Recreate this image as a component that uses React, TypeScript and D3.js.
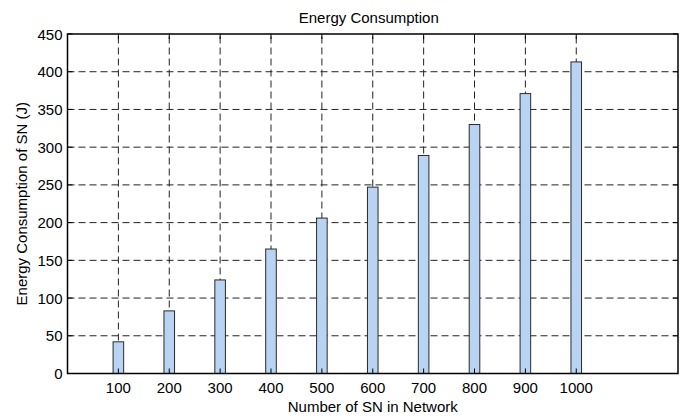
import React from "react";
import * as d3 from "d3";

const nodes = [100, 200, 300, 400, 500, 600, 700, 800, 900, 1000];
const energy = [42, 83, 124, 165, 206, 247, 289, 330, 371, 413];
const yTicks = [0, 50, 100, 150, 200, 250, 300, 350, 400, 450];
const title = "Energy Consumption";
const xLabel = "Number of SN in Network";
const yLabel = "Energy Consumption of SN (J)";

const W = 688;
const H = 419;
const M = { left: 67.5, right: 678, top: 34, bottom: 373.5 };
const FONT = "'Liberation Sans', Arial, Helvetica, sans-serif";

export default function App() {
  const x = d3.scaleLinear().domain([0, 1200]).range([M.left, M.right]);
  const y = d3.scaleLinear().domain([0, 450]).range([M.bottom, M.top]);
  const halfW = 10.4;
  const tick = 5;
  const grid = "#222";
  return (
    <svg
      width={W}
      height={H}
      style={{ position: "absolute", left: 0, top: 0, background: "#fff" }}
      fontFamily={FONT}
    >
      <rect x={0} y={0} width={W} height={H} fill="#fff" />
      {/* grid */}
      {yTicks
        .filter((t) => t > 0 && t < 450)
        .map((t) => (
          <line
            key={"gy" + t}
            x1={M.left}
            x2={M.right}
            y1={y(t)}
            y2={y(t)}
            stroke={grid}
            strokeWidth={1}
            strokeDasharray="7,4"
          />
        ))}
      {nodes.map((n) => (
        <line
          key={"gx" + n}
          x1={x(n)}
          x2={x(n)}
          y1={M.bottom}
          y2={M.top}
          stroke={grid}
          strokeWidth={1}
          strokeDasharray="7,4"
        />
      ))}
      {/* bars */}
      {nodes.map((n, i) => (
        <rect
          key={"b" + n}
          x={x(n - halfW)}
          y={y(energy[i])}
          width={x(n + halfW) - x(n - halfW)}
          height={y(0) - y(energy[i])}
          fill="#b9d4f2"
          stroke="#2a2a2a"
          strokeWidth={1}
        />
      ))}
      {/* ticks */}
      {yTicks.map((t) => (
        <g key={"ty" + t}>
          <line x1={M.left} x2={M.left + tick} y1={y(t)} y2={y(t)} stroke="#000" />
          <line x1={M.right} x2={M.right - tick} y1={y(t)} y2={y(t)} stroke="#000" />
          <text
            x={M.left - 5}
            y={y(t)}
            textAnchor="end"
            dominantBaseline="central"
            fontSize={15}
            fill="#000"
          >
            {t}
          </text>
        </g>
      ))}
      {nodes.map((n) => (
        <g key={"tx" + n}>
          <line x1={x(n)} x2={x(n)} y1={M.bottom} y2={M.bottom - tick} stroke="#000" />
          <line x1={x(n)} x2={x(n)} y1={M.top} y2={M.top + tick} stroke="#000" />
          <text
            x={x(n)}
            y={M.bottom + 14}
            textAnchor="middle"
            dominantBaseline="central"
            fontSize={15}
            fill="#000"
          >
            {n}
          </text>
        </g>
      ))}
      {/* frame */}
      <rect
        x={M.left}
        y={M.top}
        width={M.right - M.left}
        height={M.bottom - M.top}
        fill="none"
        stroke="#000"
        strokeWidth={1.5}
      />
      <text
        x={(M.left + M.right) / 2 - 4}
        y={17.5}
        textAnchor="middle"
        dominantBaseline="central"
        fontSize={15}
        fill="#000"
      >
        {title}
      </text>
      <text
        x={(M.left + M.right) / 2}
        y={406}
        textAnchor="middle"
        dominantBaseline="central"
        fontSize={15}
        fill="#000"
      >
        {xLabel}
      </text>
      <text
        transform={`translate(21,${(M.top + M.bottom) / 2}) rotate(-90)`}
        textAnchor="middle"
        dominantBaseline="central"
        fontSize={15}
        fill="#000"
      >
        {yLabel}
      </text>
    </svg>
  );
}
